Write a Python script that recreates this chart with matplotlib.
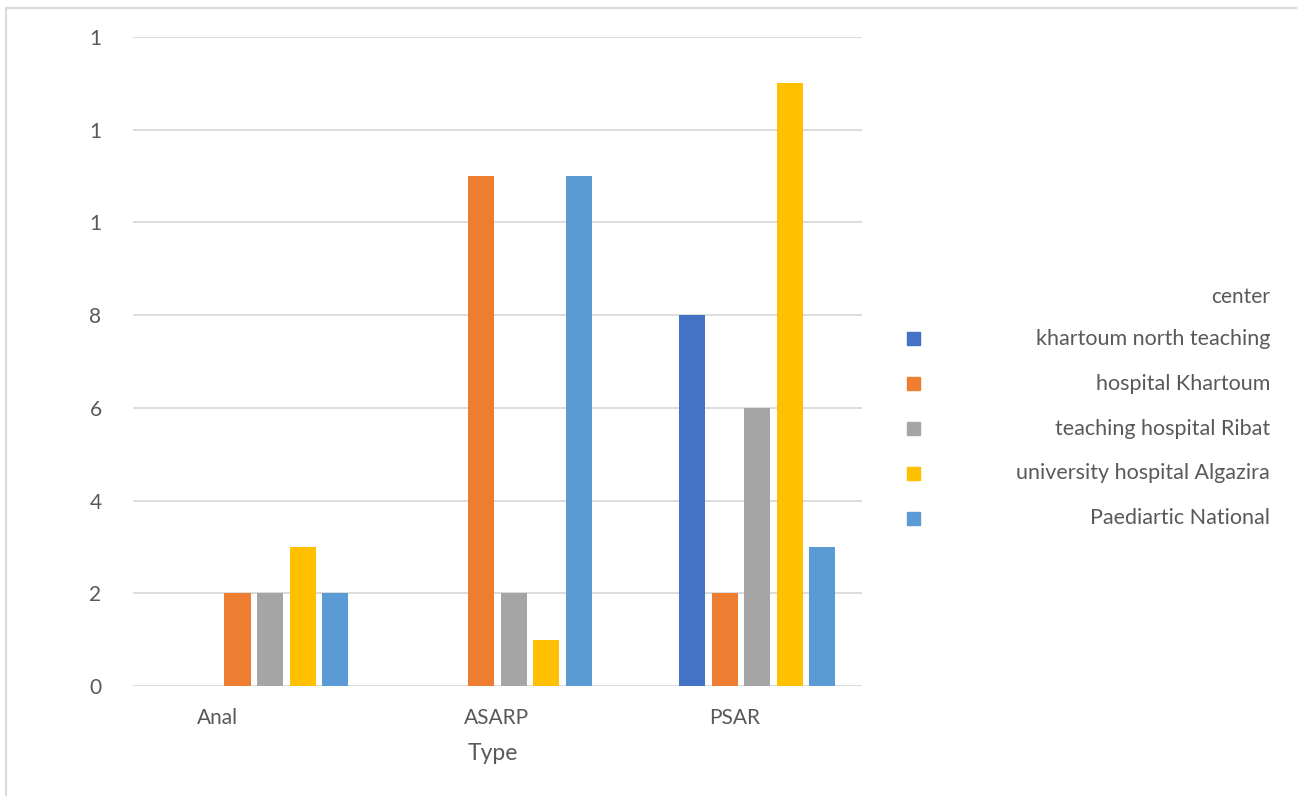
import numpy as np
import matplotlib.pyplot as plt
from matplotlib.lines import Line2D
from matplotlib.patches import Rectangle

plt.rcParams['font.family'] = ['Lato', 'DejaVu Sans']

types = ['Anal', 'ASARP', 'PSAR']
centers = ['khartoum north teaching', 'hospital Khartoum', 'teaching hospital Ribat',
           'university hospital Algazira', 'Paediartic National']
khartoum_north = [0, 0, 8]
hospital_khartoum = [2, 11, 2]
ribat = [2, 2, 6]
algazira = [3, 1, 13]
paediatric = [2, 11, 3]
series = [khartoum_north, hospital_khartoum, ribat, algazira, paediatric]
colors = ['#4472C4', '#ED7D31', '#A5A5A5', '#FFC000', '#5B9BD5']
y_ticks = [0, 2, 4, 6, 8, 10, 12, 14]
y_labels = ['0', '2', '4', '6', '8', '1', '1', '1']

text_col = '#595959'
fig = plt.figure(figsize=(12.97, 7.96), dpi=100)
ax = fig.add_axes([0.1025, 0.1382, 0.5621, 0.8153])

x = np.arange(len(types))
pitch = 0.1335
width = 0.107
for i, (vals, col) in enumerate(zip(series, colors)):
    ax.bar(x + (i - 2) * pitch, vals, width, color=col, zorder=3)

ax.set_xlim(-0.563, 2.431)
ax.set_ylim(0, 14)
ax.set_yticks(y_ticks)
ax.set_yticklabels(y_labels)
ax.yaxis.grid(True, color='#d9d9d9', linewidth=1.3, zorder=0)
ax.tick_params(axis='y', length=0, pad=27, labelsize=15, labelcolor=text_col)
for lbl in ax.get_yticklabels():
    lbl.set_horizontalalignment('center')
for s in ax.spines.values():
    s.set_visible(False)

# category labels sit a little left of the bar groups
ax.set_xticks(x + np.array([-0.214, -0.068, -0.091]))
ax.set_xticklabels(types)
ax.tick_params(axis='x', length=0, pad=16, labelsize=15, labelcolor=text_col)
ax.set_xlabel('Type', fontsize=16.5, color=text_col)
ax.xaxis.set_label_coords(0.4935, -0.088)

# legend drawn by hand: swatches on the left, right-aligned names
fig.text(1270 / 1297, 1 - 297 / 796, 'center', ha='right', va='center',
         fontsize=15, color=text_col)
for i, (name, col) in enumerate(zip(centers, colors)):
    yc = 1 - (339 + 44.8 * i) / 796
    fig.patches.append(Rectangle((907 / 1297, yc - 6.5 / 796), 13 / 1297, 13 / 796,
                                 transform=fig.transFigure, color=col))
    fig.text(1270 / 1297, yc, name, ha='right', va='center', fontsize=15.5, color=text_col)

# thin frame along the top and left edges
fig.lines.append(Line2D([6 / 1297, 1296 / 1297], [1 - 8 / 796, 1 - 8 / 796],
                        transform=fig.transFigure, color='#d9d9d9', linewidth=1.5))
fig.lines.append(Line2D([6 / 1297, 6 / 1297], [0, 1 - 8 / 796],
                        transform=fig.transFigure, color='#d9d9d9', linewidth=1.5))

fig.savefig('out.png', dpi=100)
